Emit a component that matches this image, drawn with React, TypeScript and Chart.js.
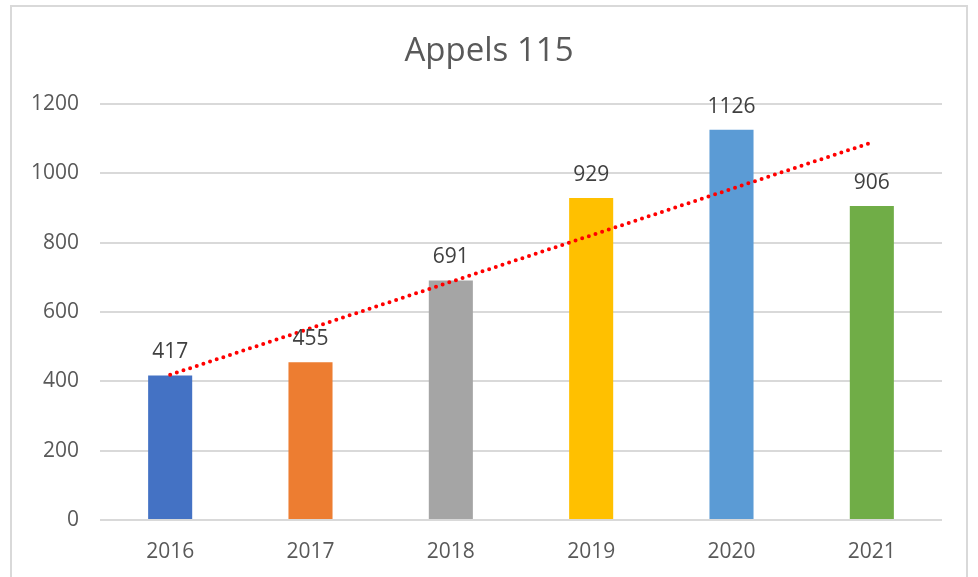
import React, { useEffect, useRef } from "react";
import { Chart, registerables } from "chart.js";

Chart.register(...registerables);

const titleText = "Appels 115";
const years = ["2016", "2017", "2018", "2019", "2020", "2021"];
const calls = [417, 455, 691, 929, 1126, 906];
const barColors = ["#4472C4", "#ED7D31", "#A5A5A5", "#FFC000", "#5B9BD5", "#70AD47"];
const trend = [419, 553, 687, 821, 955, 1089];
const yMin = 0;
const yMax = 1200;
const yStep = 200;

const FONT = "'Open Sans', 'DejaVu Sans', sans-serif";

const valueLabels = {
  id: "valueLabels",
  afterDatasetsDraw(chart: any) {
    const meta = chart.getDatasetMeta(0);
    const ctx = chart.ctx;
    ctx.save();
    ctx.font = `21px ${FONT}`;
    ctx.fillStyle = "#404040";
    ctx.textAlign = "center";
    ctx.textBaseline = "middle";
    meta.data.forEach((bar: any, i: number) => {
      ctx.fillText(String(calls[i]), bar.x, bar.y - 23);
    });
    ctx.restore();
  },
};

export default function App() {
  const ref = useRef<HTMLCanvasElement | null>(null);

  useEffect(() => {
    if (!ref.current) return;
    const chart = new Chart(ref.current, {
      type: "bar",
      data: {
        labels: years,
        datasets: [
          {
            type: "bar",
            data: calls,
            backgroundColor: barColors,
            borderWidth: 0,
            barPercentage: 0.314,
            categoryPercentage: 1,
            order: 1,
          } as any,
          {
            type: "line",
            data: trend,
            borderColor: "#FF0000",
            borderWidth: 4,
            borderDash: [0, 7],
            borderCapStyle: "round",
            pointRadius: 0,
            fill: false,
            tension: 0,
            order: 0,
          } as any,
        ],
      },
      options: {
        responsive: false,
        animation: false,
        layout: { padding: { top: 0, right: 0, bottom: 13, left: 0 } },
        plugins: {
          legend: { display: false },
          tooltip: { enabled: false },
          title: {
            display: true,
            text: titleText,
            color: "#595959",
            font: { family: FONT, size: 33, weight: "normal" as any },
            padding: { top: 32, bottom: 32.4 },
          },
        },
        scales: {
          x: {
            grid: { display: false, drawTicks: false },
            border: { display: false },
            ticks: {
              color: "#595959",
              font: { family: FONT, size: 21 },
              padding: 19,
              maxRotation: 0,
            },
            afterFit(scale: any) {
              scale.height = 44;
            },
          },
          y: {
            min: yMin,
            max: yMax,
            ticks: {
              stepSize: yStep,
              color: "#595959",
              font: { family: FONT, size: 21 },
              padding: 21,
              callback: (v: any) => String(v),
            },
            grid: { color: "#D9D9D9", lineWidth: 2, drawTicks: false },
            border: { display: false },
            afterFit(scale: any) {
              scale.width = 100;
            },
          },
          yRight: {
            position: "right",
            display: true,
            min: yMin,
            max: yMax,
            ticks: { display: false },
            grid: { display: false, drawTicks: false },
            border: { display: false },
            afterFit(scale: any) {
              scale.width = 36;
            },
          },
        },
      },
      plugins: [valueLabels],
    });
    return () => chart.destroy();
  }, []);

  return (
    <div style={{ position: "fixed", left: 0, top: 0, width: 978, height: 577, overflow: "hidden", background: "#fff" }}>
      <div
        style={{
          position: "absolute",
          left: 10,
          top: 5,
          width: 958,
          height: 600,
          border: "2px solid #D9D9D9",
          boxSizing: "border-box",
        }}
      />
      <canvas ref={ref} width={978} height={577} style={{ position: "absolute", left: 0, top: 0 }} />
    </div>
  );
}
